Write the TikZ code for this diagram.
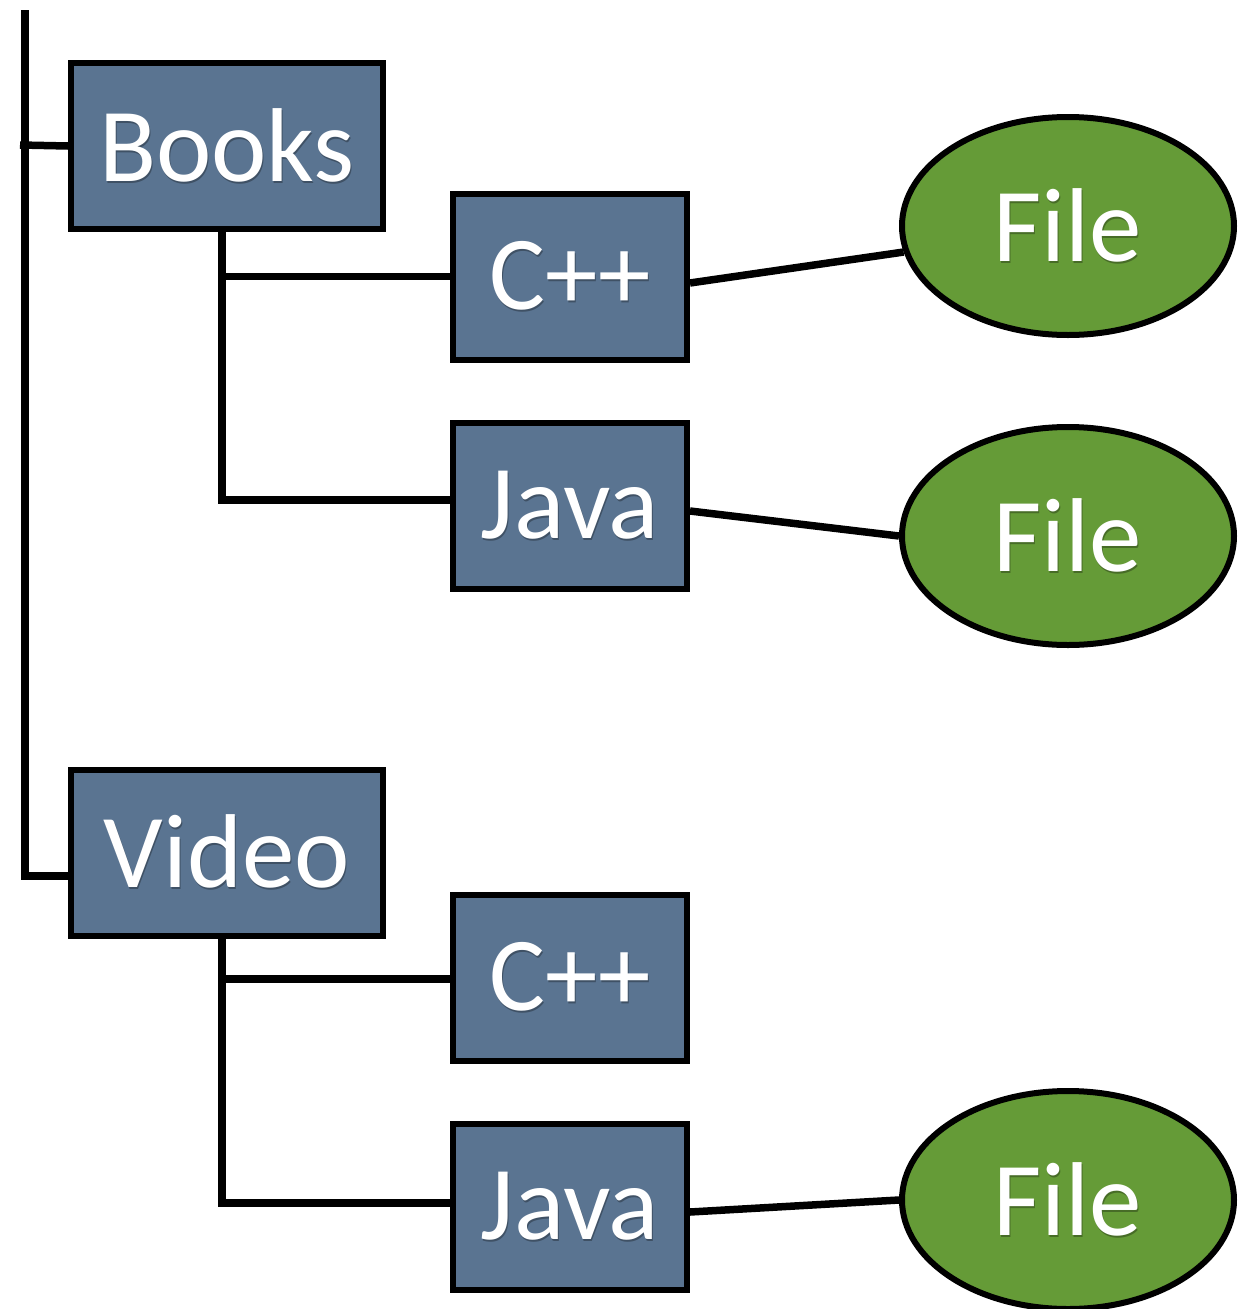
\documentclass[tikz,border=0pt]{standalone}
\usepackage{fontspec}
\setmainfont{Carlito}
\usetikzlibrary{shapes.geometric}
\definecolor{boxblue}{HTML}{5A7491}
\definecolor{filegreen}{HTML}{659B37}
\newcommand{\shadowed}[2]{%
  \makebox[0pt][l]{\kern1pt\raisebox{-2pt}{\color{#1}#2}}#2}
\tikzset{
  link/.style={line width=7.5pt},
  folder/.style={draw, line width=6pt, fill=boxblue, rectangle,
    minimum width=312pt, minimum height=166pt, inner sep=0pt,
    text=white, font=\fontsize{105}{110}\selectfont},
  subfolder/.style={folder, minimum width=234pt},
  leaf/.style={draw, line width=6pt, fill=filegreen, ellipse,
    minimum width=332pt, minimum height=218pt, inner sep=0pt,
    text=white, font=\fontsize{105}{110}\selectfont},
}
\begin{document}
\begin{tikzpicture}[x=1pt,y=-1pt]
  \useasboundingbox (0,0) rectangle (1250,1309);
  \fill[white] (0,0) rectangle (1250,1309);

  % folders
  \node[folder]    (books) at (227,146)   {\shadowed{boxblue!70!black}{Books}};
  \node[subfolder] (cppA)  at (570,276.5) {\shadowed{boxblue!70!black}{C++}};
  \node[subfolder] (javaA) at (570,506)   {\shadowed{boxblue!70!black}{Java}};
  \node[folder]    (video) at (227,852.5) {\shadowed{boxblue!70!black}{Video}};
  \node[subfolder] (cppB)  at (570,977.5) {\shadowed{boxblue!70!black}{C++}};
  \node[subfolder] (javaB) at (570,1207)  {\shadowed{boxblue!70!black}{Java}};

  % files
  \node[leaf] (fileA) at (1068,226)  {\shadowed{filegreen!70!black}{File}};
  \node[leaf] (fileB) at (1068,536)  {\shadowed{filegreen!70!black}{File}};
  \node[leaf] (fileC) at (1068,1200) {\shadowed{filegreen!70!black}{File}};

  % root trunk
  \coordinate (trunktop) at (25,10);
  \coordinate (trunkbot) at (25,876);
  \coordinate (booksjoin) at (20,145);
  \draw[link] (trunktop) -- (trunkbot) -- ([yshift=-23.5pt]video.west);
  \draw[link] (booksjoin) -- (books.west);

  % Books branch
  \draw[link] ([xshift=-5pt]books.south) |- (cppA.west);
  \draw[link] ([xshift=-5pt]books.south) |- ([yshift=6pt]javaA.west);

  % Video branch
  \draw[link] ([xshift=-5pt]video.south) |- ([yshift=-1.5pt]cppB.west);
  \draw[link] ([xshift=-5pt]video.south) |- ([yshift=4pt]javaB.west);

  % files attached to folders
  \draw[link] ([yshift=-6.5pt]cppA.east) -- (fileA.189);
  \draw[link] ([yshift=-5pt]javaA.east) -- (fileB.west);
  \draw[link] ([yshift=-5pt]javaB.east) -- (fileC.west);
\end{tikzpicture}
\end{document}
